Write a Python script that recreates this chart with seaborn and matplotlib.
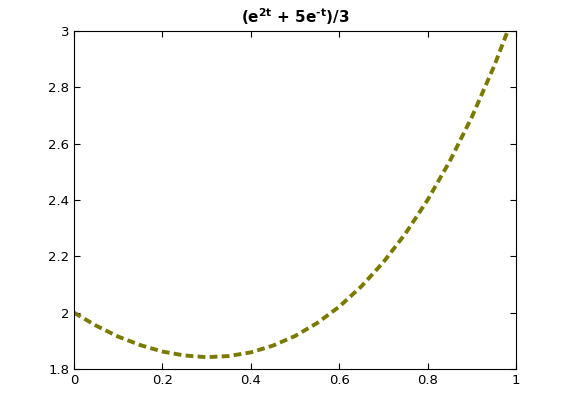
import numpy as np
import pandas as pd
import matplotlib
matplotlib.use("Agg")
import matplotlib.pyplot as plt
import seaborn as sns

# wartości
t = [0.0, 0.05, 0.1, 0.15, 0.2, 0.25, 0.3, 0.35, 0.4, 0.45, 0.5,
     0.55, 0.6, 0.65, 0.7, 0.75, 0.8, 0.85, 0.9, 0.95, 1.0]
y = [2.000, 1.954, 1.915, 1.885, 1.862, 1.848, 1.842, 1.846, 1.859, 1.883, 1.917,
     1.963, 2.021, 2.093, 2.179, 2.281, 2.400, 2.537, 2.694, 2.873, 3.076]
xticks = [0, 0.2, 0.4, 0.6, 0.8, 1]
yticks = [1.8, 2, 2.2, 2.4, 2.6, 2.8, 3]

df = pd.DataFrame({"t": t, "y": y})

sns.set_style("white")
plt.rcParams['font.family'] = ['DejaVu Sans']

fig = plt.figure(figsize=(5.7, 4.13), dpi=100)
ax = fig.add_axes([0.1298, 0.1065, 0.7754, 0.8185])
sns.lineplot(data=df, x="t", y="y", ax=ax, color="#7a7a00", linewidth=2.8)
ax.lines[0].set_dashes([2.0, 1.1])

ax.set_xlim(0, 1)
ax.set_ylim(1.8, 3)
ax.set_xticks(xticks)
ax.set_xticklabels(["0", "0.2", "0.4", "0.6", "0.8", "1"])
ax.set_yticks(yticks)
ax.set_yticklabels(["1.8", "2", "2.2", "2.4", "2.6", "2.8", "3"])
ax.set_xlabel("")
ax.set_ylabel("")
ax.tick_params(direction="in", length=4, width=0.8, labelsize=9.5,
               top=True, right=True, bottom=True, left=True,
               color="black", labelcolor="black")
for s in ax.spines.values():
    s.set_color("black")
    s.set_linewidth(0.8)
ax.set_title("(e$^{\\mathbf{2t}}$ + 5e$^{\\mathbf{\u2010t}}$)/3", fontsize=11,
             fontweight="bold", pad=6, color="black")

fig.savefig("out.png", dpi=100)
